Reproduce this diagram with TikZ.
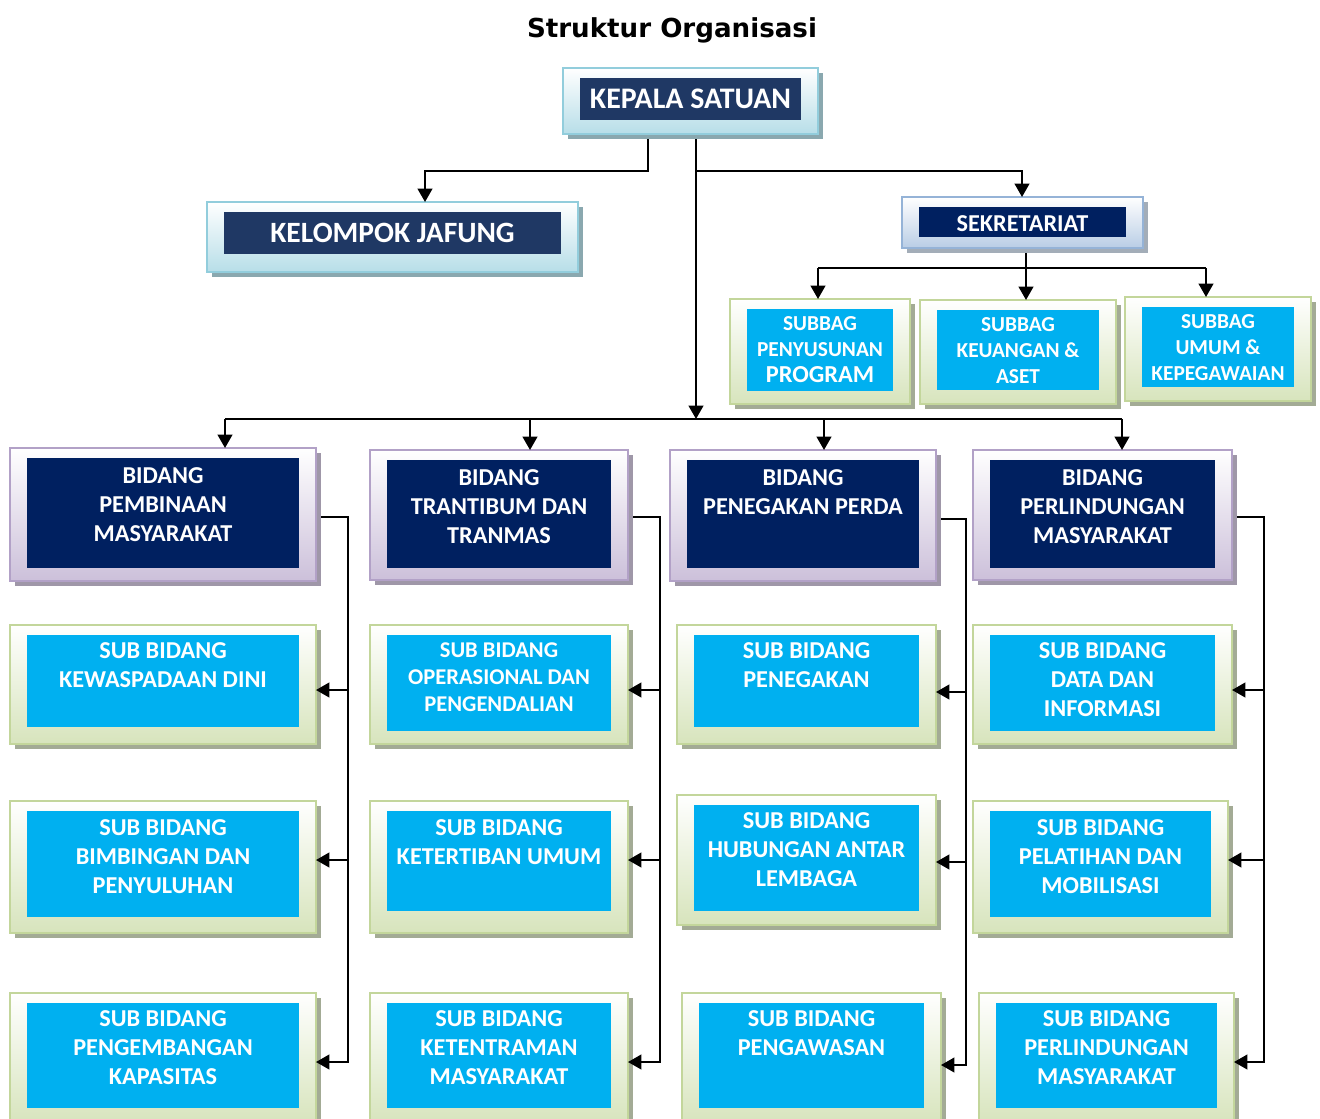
\documentclass[tikz,border=0pt]{standalone}
\usepackage{fontspec}
\setmainfont{Carlito}
\newfontfamily\titlefont{DejaVu Sans}
\usetikzlibrary{arrows.meta,fit,calc}
\definecolor{TealB}{HTML}{92CDDC}
\definecolor{TealF}{HTML}{B7DEE8}
\definecolor{TealS}{HTML}{8AA8AF}
\definecolor{NavyK}{HTML}{1F3864}
\definecolor{SteelB}{HTML}{95B3D7}
\definecolor{SteelF}{HTML}{B9CDE5}
\definecolor{SteelS}{HTML}{A3ADB8}
\definecolor{Navy}{HTML}{002060}
\definecolor{PurpB}{HTML}{B2A1C7}
\definecolor{PurpF}{HTML}{CCC0DA}
\definecolor{PurpS}{HTML}{9F97A8}
\definecolor{GreenB}{HTML}{C3D69B}
\definecolor{GreenF}{HTML}{D7E4BC}
\definecolor{GreenS}{HTML}{A3AB95}
\definecolor{Cyan}{HTML}{00B0F0}
\def\boxfont{\fontsize{18.2}{21.75}\selectfont}
\tikzset{
  conn/.style={line width=1.5pt, draw=black},
  arr/.style={conn, -{Triangle[length=10pt,width=11pt]}},
  outerbase/.style={line width=2pt, inner sep=0pt, outer sep=0pt, top color=white},
  innerbase/.style={inner sep=0pt, outer sep=0pt, draw=none},
  tealouter/.style={outerbase, draw=TealB, bottom color=TealF},
  tealinner/.style={innerbase, fill=NavyK},
  tealshadow/.style={fill=TealS},
  steelouter/.style={outerbase, draw=SteelB, bottom color=SteelF},
  steelinner/.style={innerbase, fill=Navy},
  steelshadow/.style={fill=SteelS},
  purpouter/.style={outerbase, draw=PurpB, bottom color=PurpF},
  purpinner/.style={innerbase, fill=Navy},
  purpshadow/.style={fill=PurpS},
  greenouter/.style={outerbase, draw=GreenB, bottom color=GreenF},
  greeninner/.style={innerbase, fill=Cyan},
  greenshadow/.style={fill=GreenS},
  txt/.style={text=white, font=\bfseries\boxfont, align=center, inner sep=0pt, anchor=north},
}
% #1 name, #2 kind, #3 x1, #4 y1, #5 x2, #6 y2 (outer), #7 inner bottom, #8 first line centre y, #9 text
\newcommand\obox[9]{%
  \fill[#2shadow] ({#3+5},{#4+5}) rectangle ({#5+5},{#6+5});
  \node[#2outer, fit={(#3,#4) (#5,#6)}] (#1) {};
  \node[#2inner, fit={({#3+17},{#4+10}) ({#5-17},#7)}] (#1in) {};
  \node[txt] (#1t) at ({(#3+#5)/2},{#8-8}) {#9};
}
\begin{document}
\begin{tikzpicture}[x=0.75pt,y=-0.75pt]
\clip (0,0) rectangle (1320,1119);
\fill[white] (0,0) rectangle (1320,1119);

\node[font=\titlefont\bfseries\fontsize{19.6}{22}\selectfont, anchor=base, inner sep=0pt] (title) at (672,38) {Struktur Organisasi};

\def\boxfont{\fontsize{22.4}{24}\selectfont}
\obox{kepala}{teal}{563}{68}{818}{134}{120}{97}{KEPALA SATUAN}
\def\boxfont{\fontsize{22.1}{24}\selectfont}
\obox{jafung}{teal}{207}{202}{578}{272}{254}{231}{KELOMPOK JAFUNG}
\def\boxfont{\fontsize{18.2}{19}\selectfont}
\obox{sekr}{steel}{902}{197}{1143}{248}{237}{223}{SEKRETARIAT}

\def\boxfont{\fontsize{16}{19.5}\selectfont}
\obox{sb1}{green}{730}{299}{910}{404}{391}{324}{SUBBAG\\PENYUSUNAN\\{\fontsize{18.3}{21}\selectfont PROGRAM}}
\obox{sb2}{green}{920}{300}{1116}{404}{390}{325}{SUBBAG\\KEUANGAN \&\\ASET}
\def\boxfont{\fontsize{16}{19.5}\selectfont}
\obox{sb3}{green}{1125}{297}{1311}{401}{387}{322}{SUBBAG\\UMUM \&\\KEPEGAWAIAN}

\def\boxfont{\fontsize{18.2}{21.75}\selectfont}
\obox{b1}{purp}{10}{448}{316}{581}{568}{475}{BIDANG\\PEMBINAAN\\MASYARAKAT}
\obox{b2}{purp}{370}{450}{628}{580}{568}{477}{BIDANG\\TRANTIBUM DAN\\TRANMAS}
\obox{b3}{purp}{670}{450}{936}{581}{568}{477}{BIDANG\\PENEGAKAN PERDA}
\obox{b4}{purp}{973}{450}{1232}{580}{568}{477}{BIDANG\\PERLINDUNGAN\\MASYARAKAT}

\obox{s11}{green}{10}{625}{316}{744}{727}{650}{SUB BIDANG\\KEWASPADAAN DINI}
\obox{s12}{green}{10}{801}{316}{933}{917}{827}{SUB BIDANG\\BIMBINGAN DAN\\PENYULUHAN}
\obox{s13}{green}{10}{993}{316}{1124}{1108}{1018}{SUB BIDANG\\PENGEMBANGAN\\KAPASITAS}
\def\boxfont{\fontsize{16.9}{20.5}\selectfont}
\obox{s21}{green}{370}{625}{628}{744}{731}{650}{SUB BIDANG\\OPERASIONAL DAN\\PENGENDALIAN}
\def\boxfont{\fontsize{18.2}{21.75}\selectfont}
\obox{s22}{green}{370}{801}{628}{933}{911}{827}{SUB BIDANG\\KETERTIBAN UMUM}
\obox{s23}{green}{370}{993}{628}{1124}{1108}{1018}{SUB BIDANG\\KETENTRAMAN\\MASYARAKAT}
\obox{s31}{green}{677}{625}{936}{744}{727}{650}{SUB BIDANG\\PENEGAKAN}
\obox{s32}{green}{677}{795}{936}{925}{911}{820}{SUB BIDANG\\HUBUNGAN ANTAR\\LEMBAGA}
\obox{s33}{green}{682}{993}{941}{1124}{1108}{1018}{SUB BIDANG\\PENGAWASAN}
\obox{s41}{green}{973}{625}{1232}{744}{731}{650}{SUB BIDANG\\DATA DAN\\INFORMASI}
\obox{s42}{green}{973}{801}{1228}{933}{917}{827}{SUB BIDANG\\PELATIHAN DAN\\MOBILISASI}
\obox{s43}{green}{979}{993}{1234}{1124}{1108}{1018}{SUB BIDANG\\PERLINDUNGAN\\MASYARAKAT}

% connectors from Kepala
\coordinate (kL) at (648,171);
\coordinate (kR) at (1022,171);
\coordinate (jT) at (425,171);
\coordinate (busC) at (696,419);
\draw[arr, shorten <=4pt] (kL |- kepala.south) -- (kL) -| (jT |- jafung.north);
\draw[arr, shorten <=4pt] (busC |- kepala.south) -- (busC);
\draw[arr] (busC |- kL) -| (kR |- sekr.north);

% bus to bidang
\coordinate (bus1) at (225,419);
\coordinate (bus2) at (530,419);
\coordinate (bus3) at (824,419);
\coordinate (bus4) at (1122,419);
\draw[conn] (bus1) -- (bus4);
\draw[arr] (bus1) -- (bus1 |- b1.north);
\draw[arr] (bus2) -- (bus2 |- b2.north);
\draw[arr] (bus3) -- (bus3 |- b3.north);
\draw[arr] (bus4) -- (bus4 |- b4.north);

% sekretariat to subbag
\coordinate (sC) at (1026,268);
\coordinate (sL) at (818,268);
\coordinate (sR) at (1206,268);
\draw[arr, shorten <=4pt] (sC |- sekr.south) -- (sC |- sb2.north);
\draw[conn] (sL) -- (sR);
\draw[arr] (sL) -- (sL |- sb1.north);
\draw[arr] (sR) -- (sR |- sb3.north);

% bidang spines
\coordinate (v1) at (348,517);
\draw[arr, shorten <=4pt] (b1.east |- v1) -- (v1) |- (s13.east |- 0,1062);
\draw[arr] (v1 |- 0,690) -- (s11.east |- 0,690);
\draw[arr] (v1 |- 0,860) -- (s12.east |- 0,860);

\coordinate (v2) at (660,517);
\draw[arr, shorten <=4pt] (b2.east |- v2) -- (v2) |- (s23.east |- 0,1062);
\draw[arr] (v2 |- 0,690) -- (s21.east |- 0,690);
\draw[arr] (v2 |- 0,860) -- (s22.east |- 0,860);

\coordinate (v3) at (966,519);
\draw[arr, shorten <=4pt] (b3.east |- v3) -- (v3) |- (s33.east |- 0,1065);
\draw[arr] (v3 |- 0,692) -- (s31.east |- 0,692);
\draw[arr] (v3 |- 0,862) -- (s32.east |- 0,862);

\coordinate (v4) at (1264,517);
\draw[arr, shorten <=4pt] (b4.east |- v4) -- (v4) |- (s43.east |- 0,1062);
\draw[arr] (v4 |- 0,690) -- (s41.east |- 0,690);
\draw[arr] (v4 |- 0,860) -- (s42.east |- 0,860);
\end{tikzpicture}
\end{document}
